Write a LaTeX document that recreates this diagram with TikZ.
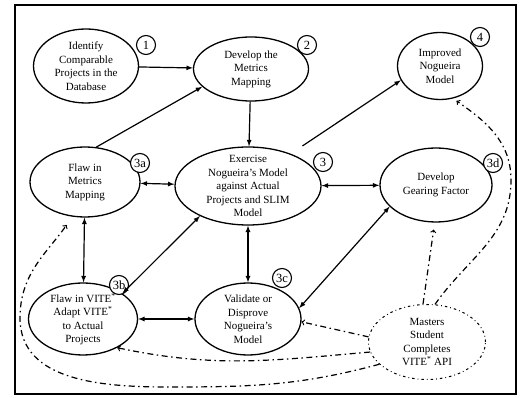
\documentclass[tikz,border=0pt]{standalone}
\usepackage{fontspec}
\setmainfont{Liberation Serif}
\usetikzlibrary{shapes,arrows,positioning,calc}

\begin{document}
\begin{tikzpicture}[
    x=1pt, y=-1pt,
    font=\fontsize{11}{13.5}\selectfont,
    task/.style={ellipse, draw, line width=1.3pt, align=center, inner sep=-16pt},
    extern/.style={ellipse, draw, line width=1pt, align=center, inner sep=-16pt, dash pattern=on 2.5pt off 3pt on 0.8pt off 3pt},
    tag/.style={circle, draw, line width=1.1pt, fill=white, minimum size=19pt, inner sep=0pt, font=\fontsize{12.5}{12.5}\selectfont},
    flow/.style={->, >=latex, line width=1.2pt},
    tie/.style={<->, >=latex, line width=1.2pt},
    hint/.style={->, >=to, line width=1.2pt, dash pattern=on 6pt off 3.5pt on 1.5pt off 3.5pt}
]
\useasboundingbox (0,0) rectangle (520,398);
\draw[line width=1.4pt] (15,5) rectangle (516,394);
% ----- top row -----
\node[task, minimum width=105pt, minimum height=74pt] (n1) at (86,66) {Identify\\Comparable\\Projects in the\\Database};
\node[task, minimum width=115pt, minimum height=64pt] (n2) at (251,69) {Develop the\\Metrics\\Mapping};
\node[task, minimum width=85pt, minimum height=67pt] (n4) at (440,66) {Improved\\Nogueira\\Model};
% ----- middle row -----
\node[task, minimum width=110pt, minimum height=70pt] (n3a) at (85,182) {Flaw in\\Metrics\\Mapping};
\node[task, minimum width=146pt, minimum height=78pt] (n3) at (248,186) {Exercise\\Nogueira's Model\\against Actual\\Projects and SLIM\\Model};
\node[task, minimum width=112pt, minimum height=74pt] (n3d) at (436,185) {Develop\\Gearing Factor};
% ----- bottom row -----
\node[task, minimum width=109pt, minimum height=72pt] (n3b) at (83,319) {Flaw in VITE\textsuperscript{*}\\Adapt VITE\textsuperscript{*}\\to Actual\\Projects};
\node[task, minimum width=106pt, minimum height=72pt] (n3c) at (248,319) {Validate or\\Disprove\\Nogueira's\\Model};
\node[extern, minimum width=117pt, minimum height=75pt] (ms) at (427,342) {Masters\\Student\\Completes\\VITE\textsuperscript{*} API};
% ----- step tags -----
\node[tag] (t1) at (146,45) {1};
\node[tag] (t2) at (307,45) {2};
\node[tag] (t4) at (480,37) {4};
\node[tag] (t3a) at (140,163) {3a};
\node[tag] (t3) at (323,162) {3};
\node[tag] (t3d) at (493,163) {3d};
\node[tag] (t3b) at (119,285) {3b};
\node[tag] (t3c) at (282,278) {3c};
% ----- forward flow -----
\draw[flow] (n1) -- (n2);
\draw[flow] (n3a.72) -- (n2.200);
\draw[flow] (n2) -- (n3);
\draw[flow, shorten <=14pt] (n3.37) -- (n4.200);
% ----- two-way ties -----
\foreach \a/\b in {n3a/n3, n3/n3d, n3a/n3b, n3/n3c, n3b/n3c} \draw[tie] (\a) -- (\b);
\draw[tie] (n3.212) -- (n3b.33);
\draw[tie] (n3d.205) -- (n3c.12);
% ----- student's contribution -----
\coordinate (rim) at (511,180);
\coordinate (sweep) at (170,387);
\coordinate (turn) at (20,318);
\draw[hint, shorten >=7pt] (ms.96) -- (n3d.268);
\draw[hint, shorten >=4pt] (ms.78) to[out=55,in=-90] (rim) to[out=90,in=-35] (n4.292);
\draw[hint] (ms.175) -- (n3c.-3);
\draw[hint] (ms.190) to[out=185,in=-12] (n3b.-40);
\draw[hint, shorten >=10pt] (ms.205) to[out=195,in=0] (sweep) to[out=180,in=-90] (turn) to[out=90,in=235] (n3a.250);
\end{tikzpicture}
\end{document}
